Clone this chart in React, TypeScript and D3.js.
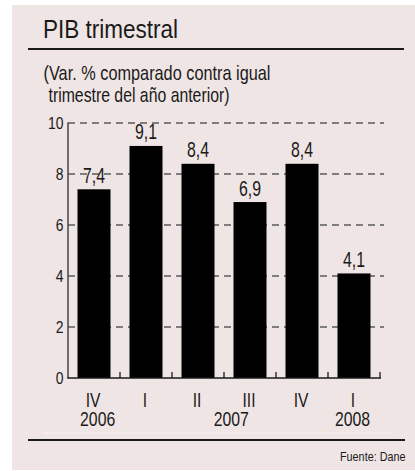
import React from "react";
import * as d3 from "d3";

const quarters = ["IV", "I", "II", "III", "IV", "I"];
const values = [7.4, 9.1, 8.4, 6.9, 8.4, 4.1];
const valueLabels = ["7,4", "9,1", "8,4", "6,9", "8,4", "4,1"];
const years = [
  { label: "2006", at: 0.07 },
  { label: "2007", at: 2.64 },
  { label: "2008", at: 4.97 },
];
const yTicks = [0, 2, 4, 6, 8, 10];

const W = 415;
const H = 471;
const FONT = "'Liberation Sans', Arial, sans-serif";
const INK = "#1a1a1a";

type TProps = {
  x: number;
  y: number;
  size: number;
  sx?: number;
  anchor?: "start" | "middle" | "end";
  children: React.ReactNode;
};

function T({ x, y, size, sx = 0.78, anchor = "start", children }: TProps) {
  return (
    <text
      transform={`translate(${x},${y}) scale(${sx},1)`}
      fontSize={size}
      textAnchor={anchor}
      fill={INK}
    >
      {children}
    </text>
  );
}

export default function App() {
  const x = d3
    .scaleBand<number>()
    .domain(d3.range(values.length))
    .range([68, 380])
    .paddingInner(19 / 52)
    .paddingOuter(19 / 104);
  const y = d3.scaleLinear().domain([0, 10]).range([378, 123]);
  const step = x.step();
  const bw = x.bandwidth();
  const center = (i: number) => (x(0) as number) + bw / 2 + i * step;
  const boundaries = d3.range(1, values.length + 1).map((i) => 68 + i * step);

  return (
    <svg
      width={W}
      height={H}
      style={{ position: "absolute", left: 0, top: 0, display: "block" }}
      fontFamily={FONT}
    >
      <rect x={12} y={5} width={W - 12} height={465} fill="#f0e5e5" />

      <text x={43} y={38} fontSize={26} fill={INK} textLength={135} lengthAdjust="spacingAndGlyphs">
        PIB trimestral
      </text>
      <line x1={28} x2={404} y1={49} y2={49} stroke={INK} strokeWidth={1.8} />

      <text x={43.5} y={80} fontSize={21} fill={INK} textLength={227} lengthAdjust="spacingAndGlyphs">
        (Var. % comparado contra igual
      </text>
      <text x={48.5} y={101.5} fontSize={21} fill={INK} textLength={181} lengthAdjust="spacingAndGlyphs">
        trimestre del año anterior)
      </text>

      {yTicks.map((t) => (
        <g key={t}>
          {t > 0 && (
            <line
              x1={68}
              x2={384}
              y1={y(t)}
              y2={y(t)}
              stroke="#5a5a5a"
              strokeWidth={1.5}
              strokeDasharray="7 5"
            />
          )}
          <T x={63.5} y={y(t) + 5.5} size={17} sx={0.82} anchor="end">
            {t}
          </T>
        </g>
      ))}

      {values.map((v, i) => (
        <g key={i}>
          <rect x={x(i)} y={y(v)} width={bw} height={y(0) - y(v)} fill="#000" />
          <T x={center(i)} y={y(v) - 6.5} size={22} sx={0.72} anchor="middle">
            {valueLabels[i]}
          </T>
          <T x={center(i) - 1} y={406.5} size={20} sx={0.78} anchor="middle">
            {quarters[i]}
          </T>
        </g>
      ))}

      <line x1={68} x2={68} y1={122.5} y2={378} stroke="#444" strokeWidth={1.5} />
      <line x1={67.25} x2={381} y1={378} y2={378} stroke={INK} strokeWidth={1.6} />
      {boundaries.map((bx, i) => (
        <line key={i} x1={bx} x2={bx} y1={372} y2={378} stroke={INK} strokeWidth={1.3} />
      ))}

      {years.map((yr) => (
        <T key={yr.label} x={center(yr.at)} y={426} size={20} sx={0.79} anchor="middle">
          {yr.label}
        </T>
      ))}

      <line x1={43} x2={393} y1={433} y2={433} stroke="#f7f0f0" strokeWidth={1} />
      <line x1={28} x2={405} y1={440} y2={440} stroke={INK} strokeWidth={1.8} />
      <text x={405.5} y={460.5} fontSize={13} fill={INK} textAnchor="end" textLength={65.5} lengthAdjust="spacingAndGlyphs">
        Fuente: Dane
      </text>
    </svg>
  );
}
